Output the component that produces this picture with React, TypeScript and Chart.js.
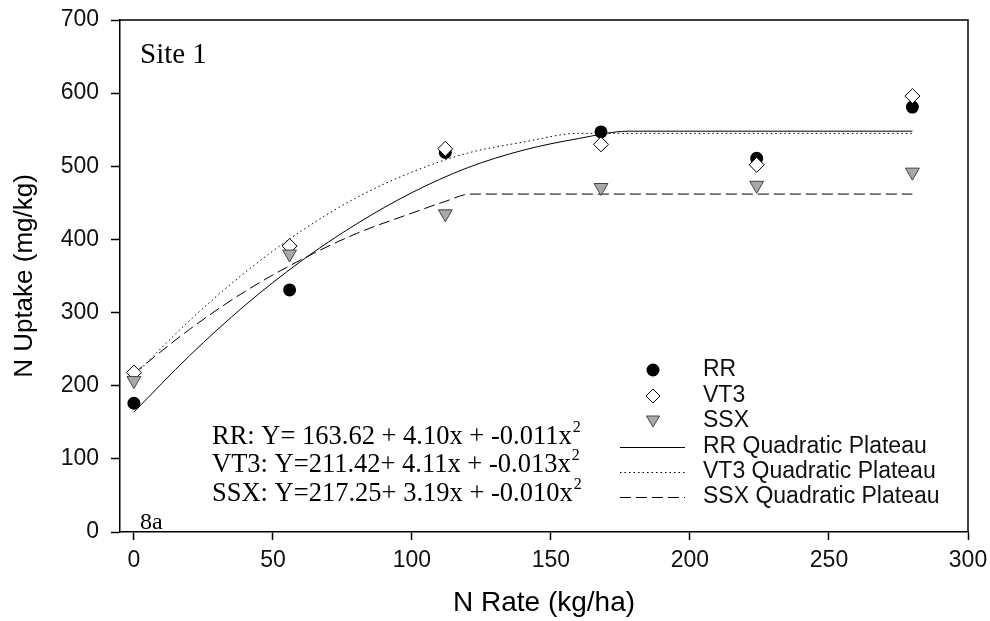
import { useEffect, useRef } from "react";
import { Chart, registerables } from "chart.js";

Chart.register(...registerables);

// ---- Data ----
const N_RATES = [0, 56, 112, 168, 224, 280];
const RR_UPTAKE = [176, 331, 519, 547, 511, 581];
const VT3_UPTAKE = [218, 391, 524, 530, 502, 596];
const SSX_UPTAKE = [207, 380, 435, 471, 474, 492];

// Quadratic-plateau fit lines
const RR_FIT_X = [0, 20, 40, 60, 80, 100, 120, 140, 160, 178, 280];
const RR_FIT_Y = [164, 241, 310, 370, 421, 464, 498, 522, 538, 548, 548];
const VT3_FIT_X = [0, 20, 40, 60, 80, 100, 120, 140, 160, 280];
const VT3_FIT_Y = [214, 289, 355, 411, 457, 492, 518, 533, 545, 545];
const SSX_FIT_X = [0, 20, 40, 60, 80, 100, 112, 121, 280];
const SSX_FIT_Y = [217, 277, 329, 372, 408, 436, 452, 462, 462];

const X_TICKS = [0, 50, 100, 150, 200, 250, 300];
const Y_TICKS = [0, 100, 200, 300, 400, 500, 600, 700];

const X_TITLE = "N Rate (kg/ha)";
const Y_TITLE = "N Uptake (mg/kg)";
const SITE_LABEL = "Site 1";
const PANEL_LABEL = "8a";
const EQUATIONS = [
  "RR: Y= 163.62 + 4.10x + -0.011x",
  "VT3: Y=211.42+ 4.11x + -0.013x",
  "SSX: Y=217.25+ 3.19x + -0.010x",
];
const LEGEND_LABELS = [
  "RR",
  "VT3",
  "SSX",
  "RR Quadratic Plateau",
  "VT3 Quadratic Plateau",
  "SSX Quadratic Plateau",
];

const SANS = "'Liberation Sans', Arial, sans-serif";
const SERIF = "'Liberation Serif', 'Times New Roman', serif";

const pts = (xs: number[], ys: number[]) => xs.map((x, i) => ({ x, y: ys[i] }));

const decorPlugin = {
  id: "decor",
  afterDraw(chart: any) {
    const { ctx, chartArea } = chart;
    const { left, right, top, bottom } = chartArea;
    ctx.save();
    // frame top/right
    ctx.strokeStyle = "#000";
    ctx.lineWidth = 1.5;
    ctx.beginPath();
    ctx.moveTo(left, top);
    ctx.lineTo(right, top);
    ctx.lineTo(right, bottom);
    ctx.stroke();

    // Site label
    ctx.fillStyle = "#000";
    ctx.textBaseline = "alphabetic";
    ctx.textAlign = "left";
    ctx.font = `29px ${SERIF}`;
    ctx.fillText(SITE_LABEL, left + 20, top + 43);
    ctx.font = `24px ${SERIF}`;
    ctx.fillText(PANEL_LABEL, left + 20, bottom - 3);

    // Equations
    const eqY = [444, 472, 501];
    EQUATIONS.forEach((t, i) => {
      ctx.font = `26.5px ${SERIF}`;
      ctx.fillText(t, 212, eqY[i]);
      const w = ctx.measureText(t).width;
      ctx.font = `16px ${SERIF}`;
      ctx.fillText("2", 212 + w + 1, eqY[i] - 12);
    });

    // Legend
    const lx = 653;
    const lys = [370, 396, 421, 447, 472, 497];
    // circle
    ctx.fillStyle = "#000";
    ctx.beginPath();
    ctx.arc(lx, lys[0], 6.5, 0, Math.PI * 2);
    ctx.fill();
    // diamond
    ctx.fillStyle = "#fff";
    ctx.strokeStyle = "#000";
    ctx.lineWidth = 1;
    ctx.beginPath();
    ctx.moveTo(lx, lys[1] - 7);
    ctx.lineTo(lx + 7, lys[1]);
    ctx.lineTo(lx, lys[1] + 7);
    ctx.lineTo(lx - 7, lys[1]);
    ctx.closePath();
    ctx.fill();
    ctx.stroke();
    // triangle down
    ctx.fillStyle = "#a8a8a8";
    ctx.strokeStyle = "#444";
    ctx.beginPath();
    ctx.moveTo(lx - 6.5, lys[2] - 5);
    ctx.lineTo(lx + 6.5, lys[2] - 5);
    ctx.lineTo(lx, lys[2] + 6);
    ctx.closePath();
    ctx.fill();
    ctx.stroke();
    // lines
    const dashes = [[], [1.5, 3], [11, 5]];
    ctx.strokeStyle = "#000";
    ctx.lineWidth = 1;
    dashes.forEach((d, i) => {
      ctx.setLineDash(d);
      ctx.beginPath();
      ctx.moveTo(620, lys[3 + i] + 0.5);
      ctx.lineTo(685, lys[3 + i] + 0.5);
      ctx.stroke();
    });
    ctx.setLineDash([]);
    ctx.fillStyle = "#111";
    ctx.font = `23px ${SANS}`;
    ctx.textBaseline = "middle";
    LEGEND_LABELS.forEach((t, i) => ctx.fillText(t, 703, lys[i]));
    ctx.restore();
  },
};

export default function App() {
  const ref = useRef<HTMLCanvasElement | null>(null);
  useEffect(() => {
    if (!ref.current) return;
    const lineDs = (data: any[], dash: number[]) => ({
      type: "line" as const,
      data,
      borderColor: "#000",
      borderWidth: 1,
      borderDash: dash,
      pointRadius: 0,
      fill: false,
      showLine: true,
      cubicInterpolationMode: "monotone" as const,
    });
    const chart = new Chart(ref.current, {
      type: "scatter",
      data: {
        datasets: [
          {
            label: "SSX",
            data: pts(N_RATES, SSX_UPTAKE),
            pointStyle: "triangle",
            rotation: 180,
            pointRadius: 8,
            backgroundColor: "#a8a8a8",
            borderColor: "#444",
            borderWidth: 1,
          } as any,
          {
            label: "VT3",
            data: pts(N_RATES, VT3_UPTAKE),
            pointStyle: "rectRot",
            pointRadius: 7.5,
            backgroundColor: "#fff",
            borderColor: "#000",
            borderWidth: 1,
          },
          {
            label: "RR",
            data: pts(N_RATES, RR_UPTAKE),
            pointStyle: "circle",
            pointRadius: 6.5,
            backgroundColor: "#000",
            borderColor: "#000",
            borderWidth: 0,
          },
          { label: "RR Quadratic Plateau", ...lineDs(pts(RR_FIT_X, RR_FIT_Y), []) },
          { label: "VT3 Quadratic Plateau", ...lineDs(pts(VT3_FIT_X, VT3_FIT_Y), [1.5, 3]) },
          { label: "SSX Quadratic Plateau", ...lineDs(pts(SSX_FIT_X, SSX_FIT_Y), [11, 5]) },
        ],
      },
      options: {
        animation: false,
        responsive: false,
        maintainAspectRatio: false,
        layout: { padding: { top: 20, right: 22, left: 0, bottom: 0 } },
        plugins: { legend: { display: false }, tooltip: { enabled: false } },
        scales: {
          x: {
            type: "linear",
            min: -5,
            max: 300,
            afterBuildTicks: (s: any) => {
              s.ticks = X_TICKS.map((v) => ({ value: v }));
            },
            afterFit: (s: any) => {
              s.height = 89;
              s.paddingRight = 0;
              s.paddingLeft = 0;
            },
            grid: { drawOnChartArea: false, drawTicks: true, tickLength: 8, tickColor: "#000", tickWidth: 1.5 },
            border: { display: true, color: "#000", width: 1.5 },
            ticks: { color: "#111", font: { family: SANS, size: 23 }, padding: 7, maxRotation: 0 },
            title: {
              display: true,
              text: X_TITLE,
              color: "#000",
              font: { family: SANS, size: 28, lineHeight: 1.2 },
              padding: { top: 0, bottom: 1 },
            },
          },
          y: {
            type: "linear",
            min: 0,
            max: 700,
            afterBuildTicks: (s: any) => {
              s.ticks = Y_TICKS.map((v) => ({ value: v }));
            },
            afterFit: (s: any) => {
              s.width = 120;
              s.paddingTop = 0;
              s.paddingBottom = 0;
            },
            grid: { drawOnChartArea: false, drawTicks: true, tickLength: 9, tickColor: "#000", tickWidth: 1.5 },
            border: { display: true, color: "#000", width: 1.5 },
            ticks: { color: "#111", font: { family: SANS, size: 23 }, padding: 12 },
            title: {
              display: true,
              text: Y_TITLE,
              color: "#000",
              font: { family: SANS, size: 26, lineHeight: 1.2 },
              padding: { top: 9, bottom: 0 },
            },
          },
        },
      },
      plugins: [decorPlugin],
    });
    return () => chart.destroy();
  }, []);
  return (
    <div style={{ position: "absolute", left: 0, top: 0, width: 990, height: 621, background: "#fff" }}>
      <canvas ref={ref} width={990} height={621} style={{ width: 990, height: 621 }} />
    </div>
  );
}
